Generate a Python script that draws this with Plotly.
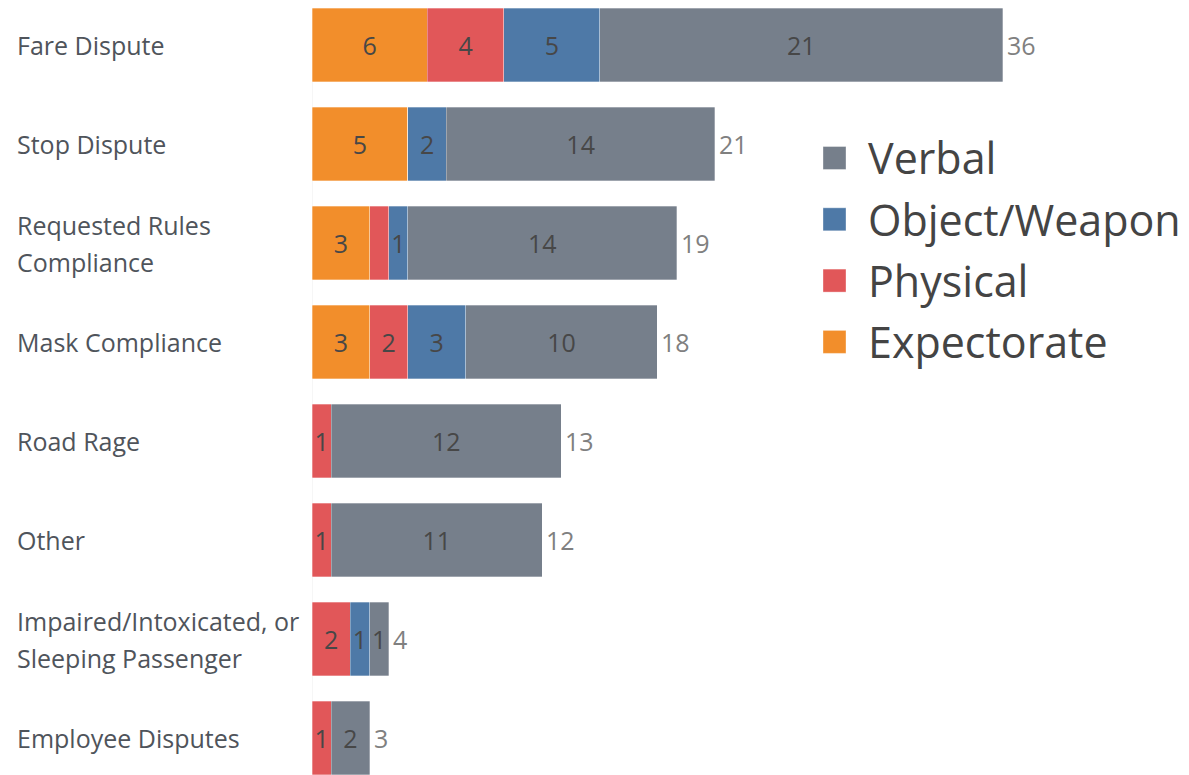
import plotly.graph_objects as go

categories = ["Fare Dispute", "Stop Dispute", "Requested Rules Compliance", "Mask Compliance",
              "Road Rage", "Other", "Impaired/Intoxicated, or Sleeping Passenger", "Employee Disputes"]
label_lines = [["Fare Dispute"], ["Stop Dispute"], ["Requested Rules", "Compliance"], ["Mask Compliance"],
               ["Road Rage"], ["Other"], ["Impaired/Intoxicated, or", "Sleeping Passenger"], ["Employee Disputes"]]
expectorate = [6, 5, 3, 3, 0, 0, 0, 0]
physical = [4, 0, 1, 2, 1, 1, 2, 1]
object_weapon = [5, 2, 1, 3, 0, 0, 1, 0]
verbal = [21, 14, 14, 10, 12, 11, 1, 2]
# segment labels hidden in the original (overlap)
physical_label_hidden = [False, False, True, False, False, False, False, False]

OFF = 8  # browser body margin
W, H = 1189 - OFF, 775 - OFF
L = 312 - OFF
PX_PER_UNIT = 19.19
ROW0 = 45 - OFF
PITCH = 99.0
FONT = "Open Sans"

series = [("Expectorate", expectorate, "#f28e2b", None),
          ("Physical", physical, "#e15759", physical_label_hidden),
          ("Object/Weapon", object_weapon, "#4e79a7", None),
          ("Verbal", verbal, "#767f8b", None)]

fig = go.Figure()
for name, vals, color, hidden in series:
    labels = []
    for i, v in enumerate(vals):
        if v == 0 or (hidden is not None and hidden[i]):
            labels.append("")
        else:
            labels.append(str(v))
    fig.add_trace(go.Bar(
        y=categories, x=vals, orientation="h", name=name,
        marker=dict(color=color, line=dict(color="rgba(255,255,255,0.5)", width=0.6)),
        width=0.747,
        text=labels,
        textposition="inside", insidetextanchor="middle", textangle=0,
        textfont=dict(family=FONT, size=25, color="#474747"),
        cliponaxis=False, showlegend=False,
    ))

totals = [a + b + c + d for a, b, c, d in zip(expectorate, physical, object_weapon, verbal)]

annotations = []
for cat, t in zip(categories, totals):
    annotations.append(dict(x=t, xref="x", xanchor="left", xshift=2,
                            y=cat, yref="y", yanchor="middle",
                            text=str(t), showarrow=False,
                            font=dict(family=FONT, size=25, color="#808080")))

for cat, lines in zip(categories, label_lines):
    n = len(lines)
    for k, ln in enumerate(lines):
        shift = (n - 1) * 18.5 - k * 37
        annotations.append(dict(
            x=(15 - OFF - L) / (W - L), xref="paper", xanchor="left",
            y=cat, yref="y", yanchor="middle", yshift=shift,
            text=ln, showarrow=False,
            font=dict(family=FONT, size=25, color="#4f545b"),
        ))

shapes = []
legend_items = [("Verbal", "#767f8b"), ("Object/Weapon", "#4e79a7"),
                ("Physical", "#e15759"), ("Expectorate", "#f28e2b")]
px = lambda x: (x - OFF - L) / (W - L)
py = lambda y: 1 - (y - OFF) / H
for i, (name, color) in enumerate(legend_items):
    cy = 158 + i * 61.3
    shapes.append(dict(type="rect", xref="paper", yref="paper",
                       x0=px(823), x1=px(846), y0=py(cy - 11.5), y1=py(cy + 11.5),
                       fillcolor=color, line=dict(color="rgba(255,255,255,0.6)", width=0.6)))
    annotations.append(dict(x=px(866), xref="paper", xanchor="left",
                            y=py(cy), yref="paper", yanchor="middle",
                            text=name, showarrow=False,
                            font=dict(family=FONT, size=43, color="#444444")))

top = -ROW0 / PITCH
bottom = (H - ROW0) / PITCH
fig.update_layout(
    barmode="stack", width=W, height=H,
    margin=dict(l=L, r=0, t=0, b=0, pad=0),
    plot_bgcolor="white", paper_bgcolor="white",
    xaxis=dict(range=[0, (W - L) / PX_PER_UNIT], showgrid=False, showticklabels=False,
               zeroline=False, showline=False),
    yaxis=dict(categoryorder="array", categoryarray=categories,
               range=[bottom, top], showticklabels=False, showgrid=False,
               zeroline=False, showline=False),
    uniformtext=dict(minsize=25, mode="show"),
    annotations=annotations, shapes=shapes,
)
fig.add_vline(x=0, line=dict(color="#eeeeee", width=1), layer="below")
fig.write_html("out.html")
